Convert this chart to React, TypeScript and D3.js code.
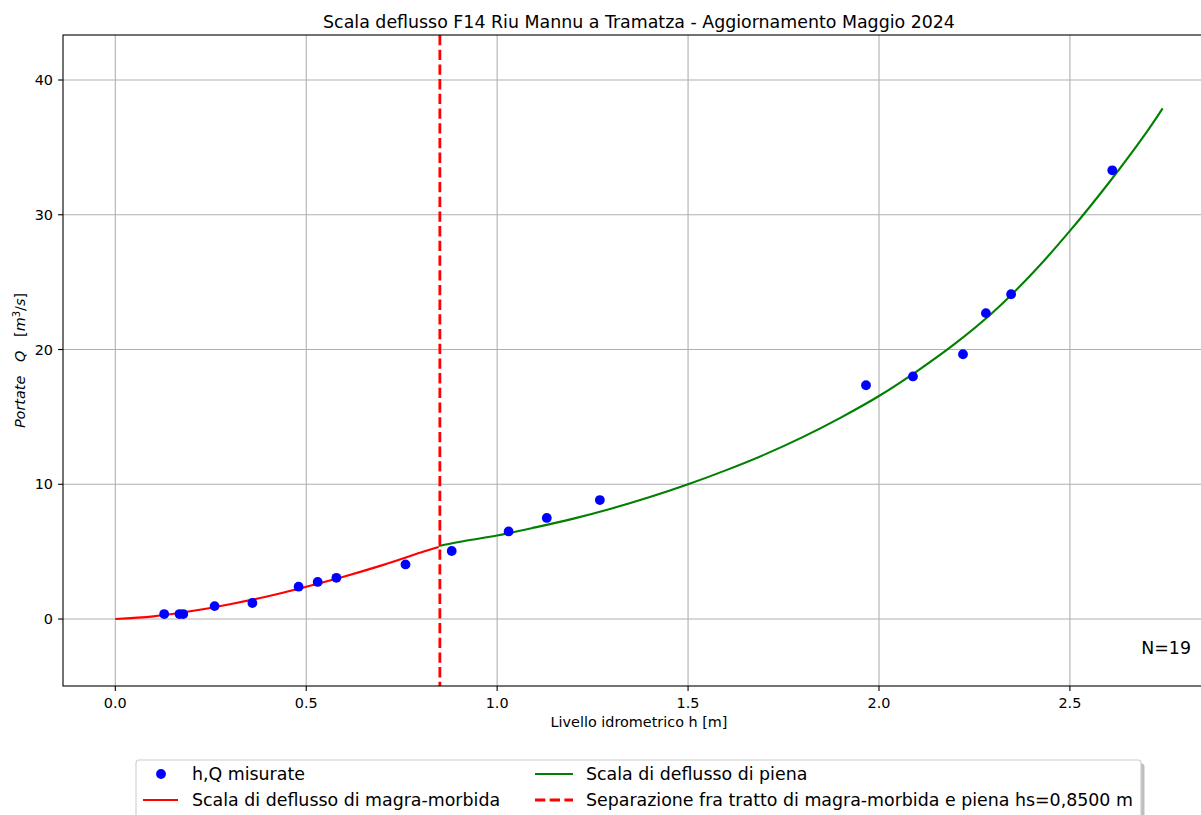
import React from "react";
import * as d3 from "d3";

// Measured points (h [m], Q [m3/s])
const measuredH = [0.128, 0.168, 0.178, 0.26, 0.359, 0.48, 0.53, 0.579, 0.76, 0.881, 1.03, 1.13, 1.269, 1.966, 2.089, 2.22, 2.28, 2.346, 2.611];
const measuredQ = [0.37, 0.37, 0.37, 0.96, 1.19, 2.4, 2.75, 3.06, 4.05, 5.05, 6.5, 7.5, 8.83, 17.35, 18.0, 19.65, 22.7, 24.1, 33.3];

// Low-flow rating curve
const lowH = [0.0, 0.1, 0.2, 0.3, 0.4, 0.5, 0.6, 0.7, 0.8, 0.847];
const lowQ = [0.0, 0.2, 0.59, 1.1, 1.69, 2.4, 3.16, 4.0, 4.93, 5.34];

// Flood rating curve
const highH = [0.847, 0.9, 1.0, 1.1, 1.2, 1.3, 1.4, 1.5, 1.6, 1.7, 1.8, 1.9, 2.0, 2.1, 2.2, 2.3, 2.4, 2.5, 2.6, 2.7, 2.743];
const highQ = [5.42, 5.72, 6.2, 6.8, 7.45, 8.2, 9.05, 10.0, 11.05, 12.2, 13.5, 14.95, 16.55, 18.4, 20.45, 22.8, 25.6, 28.8, 32.3, 36.1, 37.9];

const hs = 0.85;
const xTicks = [0.0, 0.5, 1.0, 1.5, 2.0, 2.5];
const yTicks = [0, 10, 20, 30, 40];
const nLabel = "N=19";
const title = "Scala deflusso F14 Riu Mannu a Tramatza - Aggiornamento Maggio 2024";

const W = 1201;
const H = 815;
const L = 63, R = 1215, T = 35, B = 686;
const FONT = "'DejaVu Sans', sans-serif";
const FS_TICK = 14.4;
const FS_BIG = 17.4;

export default function App() {
  const x = d3.scaleLinear().domain([-0.137, 2.88]).range([L, R]);
  const y = d3.scaleLinear().domain([-4.97, 43.34]).range([B, T]);

  const line = d3
    .line<[number, number]>()
    .x((d) => x(d[0]))
    .y((d) => y(d[1]))
    .curve(d3.curveCatmullRom.alpha(0.5));

  const lowPts: [number, number][] = lowH.map((h, i) => [h, lowQ[i]]);
  const highPts: [number, number][] = highH.map((h, i) => [h, highQ[i]]);

  const legX = 136, legY = 760, legW = 1005, legH = 64;

  return (
    <svg
      width={W}
      height={H}
      style={{ position: "absolute", left: 0, top: 0, background: "#fff" }}
      fontFamily={FONT}
    >
      <defs>
        <clipPath id="plotclip">
          <rect x={L} y={T} width={R - L} height={B - T} />
        </clipPath>
      </defs>
      <rect x={0} y={0} width={W} height={H} fill="#fff" />
      {/* grid */}
      <g stroke="#b0b0b0" strokeWidth={1.1}>
        {xTicks.map((t) => (
          <line key={"gx" + t} x1={x(t)} x2={x(t)} y1={T} y2={B} />
        ))}
        {yTicks.map((t) => (
          <line key={"gy" + t} x1={L} x2={R} y1={y(t)} y2={y(t)} />
        ))}
      </g>

      <g clipPath="url(#plotclip)">
        <path d={line(lowPts) || ""} fill="none" stroke="#ff0000" strokeWidth={2.1} />
        <path d={line(highPts) || ""} fill="none" stroke="#008000" strokeWidth={2.1} />
        <line
          x1={x(hs)}
          x2={x(hs)}
          y1={T}
          y2={B}
          stroke="#ff0000"
          strokeWidth={2.8}
          strokeDasharray="10.3 4.4"
        />
        {measuredH.map((h, i) => (
          <circle key={"p" + i} cx={x(h)} cy={y(measuredQ[i])} r={4.9} fill="#0000ff" />
        ))}
      </g>

      {/* spines */}
      <rect x={L} y={T} width={R - L} height={B - T} fill="none" stroke="#000" strokeWidth={1.1} />

      {/* ticks */}
      <g fontSize={FS_TICK} fill="#000">
        {xTicks.map((t) => (
          <g key={"xt" + t}>
            <line x1={x(t)} x2={x(t)} y1={B} y2={B + 4.9} stroke="#000" strokeWidth={1.1} />
            <text x={x(t)} y={B + 21.5} textAnchor="middle">
              {t.toFixed(1)}
            </text>
          </g>
        ))}
        {yTicks.map((t) => (
          <g key={"yt" + t}>
            <line x1={L - 4.9} x2={L} y1={y(t)} y2={y(t)} stroke="#000" strokeWidth={1.1} />
            <text x={L - 10} y={y(t) + 5} textAnchor="end">
              {String(t)}
            </text>
          </g>
        ))}
      </g>

      {/* axis labels */}
      <text x={(L + R) / 2} y={727} textAnchor="middle" fontSize={FS_TICK}>
        Livello idrometrico h [m]
      </text>
      <text
        transform={`translate(25, ${(T + B) / 2}) rotate(-90)`}
        textAnchor="middle"
        fontSize={FS_TICK}
      >
        <tspan fontStyle="italic">Portate</tspan>
        <tspan>{"\u00a0\u00a0 "}</tspan>
        <tspan fontStyle="italic">Q</tspan>
        <tspan>{"\u00a0\u00a0 ["}</tspan>
        <tspan fontStyle="italic">m</tspan>
        <tspan fontSize={10} dy={-5}>3</tspan>
        <tspan dy={5}>/</tspan>
        <tspan fontStyle="italic">s</tspan>
        <tspan>]</tspan>
      </text>

      {/* title */}
      <text x={(L + R) / 2} y={28} textAnchor="middle" fontSize={FS_BIG}>
        {title}
      </text>

      {/* N label */}
      <text x={1191} y={654} textAnchor="end" fontSize={FS_BIG}>
        {nLabel}
      </text>

      {/* legend */}
      <rect x={legX + 3.5} y={legY + 3.5} width={legW} height={legH} rx={3} fill="#808080" opacity={0.5} />
      <rect x={legX} y={legY} width={legW} height={legH} rx={3} fill="#fff" stroke="#cccccc" strokeWidth={1.1} />
      <g fontSize={FS_BIG}>
        <circle cx={161} cy={774} r={4.9} fill="#0000ff" />
        <text x={192} y={780}>h,Q misurate</text>
        <line x1={143} x2={178} y1={800} y2={800} stroke="#ff0000" strokeWidth={2.1} />
        <text x={192} y={806}>Scala di deflusso di magra-morbida</text>
        <line x1={535} x2={573} y1={774} y2={774} stroke="#008000" strokeWidth={2.1} />
        <text x={586} y={780}>Scala di deflusso di piena</text>
        <line x1={535} x2={573} y1={800} y2={800} stroke="#ff0000" strokeWidth={2.8} strokeDasharray="10.3 4.4" />
        <text x={586} y={806}>Separazione fra tratto di magra-morbida e piena hs=0,8500 m</text>
      </g>
    </svg>
  );
}
